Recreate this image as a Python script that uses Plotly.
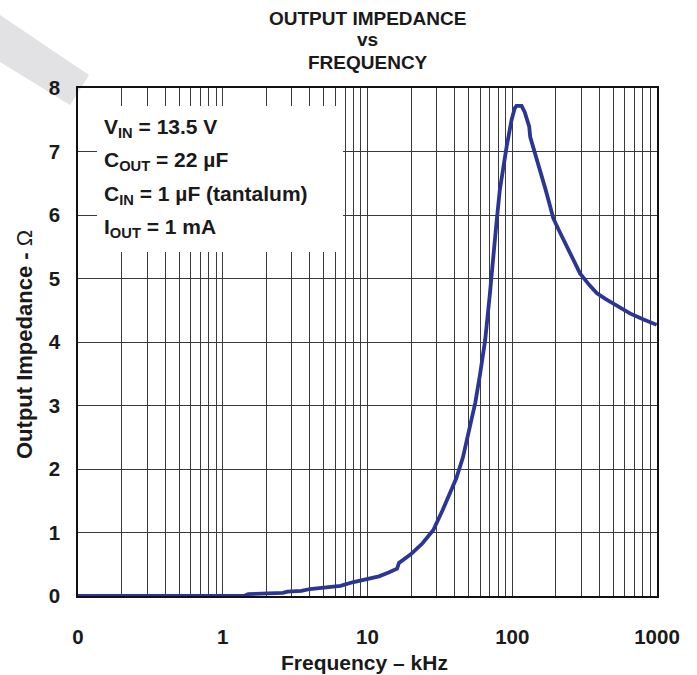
import plotly.graph_objects as go

# ---- data ----
freq_khz = [0.1, 0.2, 0.5, 1.0, 1.4, 1.5, 2.0, 2.6, 2.8, 3.5, 4.0, 5.0, 5.5, 6.5, 8.0,
            10, 12, 14, 16, 16.5, 20, 24, 28.5, 33, 37, 41, 45.6, 50, 55.6, 60, 65,
            70, 74, 78, 82, 87, 91.5, 99, 104, 107, 116, 122, 128, 131, 133,
            145, 155, 170, 182, 192, 210, 227, 260, 294, 340, 383, 440, 499, 570,
            650, 800, 995]
impedance = [0.0, 0.0, 0.0, 0.0, 0.0, 0.03, 0.04, 0.05, 0.07, 0.08, 0.11, 0.13, 0.14, 0.16, 0.22,
             0.27, 0.31, 0.37, 0.43, 0.52, 0.66, 0.83, 1.04, 1.35, 1.62, 1.85, 2.18, 2.6, 3.05, 3.5, 4.03,
             4.75, 5.40, 5.9, 6.39, 6.8, 7.08, 7.50, 7.68, 7.72, 7.72, 7.62, 7.45, 7.39, 7.23,
             6.95, 6.71, 6.40, 6.15, 5.95, 5.76, 5.61, 5.32, 5.08, 4.90, 4.77, 4.68, 4.61, 4.53,
             4.45, 4.36, 4.27]

x_tickvals = [0.1, 1, 10, 100, 1000]
x_ticktext = ["0", "1", "10", "100", "1000"]
y_tickvals = [0, 1, 2, 3, 4, 5, 6, 7, 8]
minor_vals = [m * d for d in (0.1, 1, 10, 100) for m in range(2, 10)]

title_lines = ["OUTPUT IMPEDANCE", "vs", "FREQUENCY"]
cond_lines = ["V<sub>IN</sub> = 13.5 V", "C<sub>OUT</sub> = 22 µF",
              "C<sub>IN</sub> = 1 µF (tantalum)", "I<sub>OUT</sub> = 1 mA"]
x_title = "<b>Frequency – kHz</b>"
y_title = "<b>Output Impedance - </b>Ω"

# ---- layout geometry (pixels) ----
W, H = 697, 675
L, R, T, B = 78, 40, 88, 79
PW, PH = W - L - R, H - T - B
FONT = "Liberation Sans, Arial, sans-serif"


def px(xp):
    return (xp - L) / PW


def py(yp):
    return (H - B - yp) / PH


fig = go.Figure()
fig.add_trace(go.Scatter(x=freq_khz, y=impedance, mode="lines",
                         line=dict(color="#2B3594", width=3.8), hoverinfo="x+y"))

grid_col = "#3a3a3a"
fig.update_layout(
    width=W, height=H, margin=dict(l=L, r=R, t=T, b=B, autoexpand=False),
    paper_bgcolor="white", plot_bgcolor="white", showlegend=False,
    font=dict(family=FONT, color="#1a1a1a"),
    xaxis=dict(type="log", range=[-1, 3], tickvals=x_tickvals, ticktext=x_ticktext,
               showgrid=True, gridcolor=grid_col, gridwidth=1,
               minor=dict(tickvals=minor_vals, showgrid=True, gridcolor=grid_col, gridwidth=1),
               showline=True, linecolor="#111", linewidth=1.5, mirror=True,
               ticks="outside", ticklen=22, tickcolor="rgba(0,0,0,0)",
               tickfont=dict(size=20.5, family=FONT, color="#1a1a1a", weight="bold"),
               automargin=False, zeroline=False),
    yaxis=dict(range=[0, 8], tickvals=y_tickvals,
               showgrid=True, gridcolor=grid_col, gridwidth=1,
               showline=True, linecolor="#111", linewidth=1.5, mirror=True,
               ticks="outside", ticklen=12, tickcolor="rgba(0,0,0,0)",
               tickfont=dict(size=20.5, family=FONT, color="#1a1a1a", weight="bold"),
               automargin=False, zeroline=False),
)

# axis titles
fig.add_annotation(text=x_title, xref="paper", yref="paper",
                   x=px(364), y=py(662), showarrow=False, xanchor="center", yanchor="middle",
                   font=dict(size=21, family=FONT, color="#1a1a1a"))
fig.add_annotation(text=y_title, xref="paper", yref="paper",
                   x=px(24), y=py(345), showarrow=False, xanchor="center", yanchor="middle",
                   textangle=-90, font=dict(size=22, family=FONT, color="#1a1a1a"))

# white box behind the conditions text
fig.add_shape(type="rect", xref="paper", yref="paper",
              x0=px(97), x1=px(343), y0=py(252), y1=py(106),
              fillcolor="white", line=dict(width=0), layer="above")

# gray diagonal band in the top-left corner
band = [(0, 15), (89, 75), (70, 105), (0, 62)]
path = "M " + " L ".join(f"{px(a):.4f},{py(b):.4f}" for a, b in band) + " Z"
fig.add_shape(type="path", xref="paper", yref="paper", path=path,
              fillcolor="#E2E2E4", line=dict(width=0), layer="below")

# title lines
for txt, yc in zip(title_lines, [18, 40, 62]):
    fig.add_annotation(text=f"<b>{txt}</b>", xref="paper", yref="paper",
                       x=px(367.5), y=py(yc), showarrow=False, xanchor="center", yanchor="middle",
                       font=dict(size=19, family=FONT, color="#1a1a1a"))

# conditions
for txt, yc in zip(cond_lines, [128, 161, 195, 228]):
    fig.add_annotation(text=f"<b>{txt}</b>", xref="paper", yref="paper",
                       x=px(102), y=py(yc), showarrow=False, xanchor="left", yanchor="middle",
                       font=dict(size=21, family=FONT, color="#1a1a1a"))

fig.write_html("out.html")
